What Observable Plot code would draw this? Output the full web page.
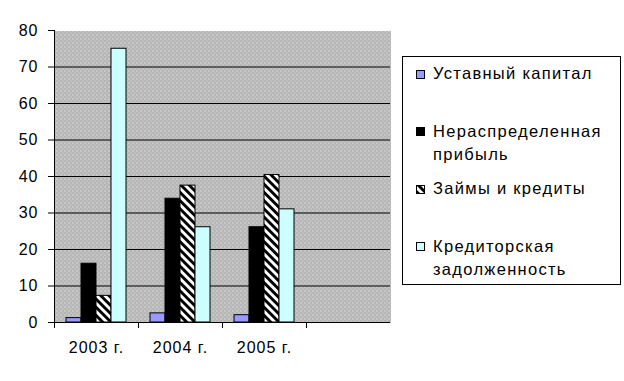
<!DOCTYPE html>
<html>
<head>
<meta charset="utf-8">
<script src="https://cdn.jsdelivr.net/npm/d3@7"></script>
<script src="https://cdn.jsdelivr.net/npm/@observablehq/plot@0.6"></script>
<style>
  body { margin: 0; background: #fff; }
  #wrap { position: relative; width: 624px; height: 381px; font-family: "Liberation Sans", Arial, sans-serif; }
  #chart { position: absolute; left: 0; top: 0; }
  #legend { position: absolute; left: 402px; top: 56px; width: 217px; height: 227px; border: 1px solid #000; background: #fff; }
  .item { position: relative; height: 57.5px; }
  .sw { position: absolute; left: 13px; top: 12.5px; width: 9px; height: 9px; }
  .lbl { position: absolute; left: 30px; top: 5px; width: 188px; font-size: 16.5px; letter-spacing: 1.3px; line-height: 23px; color: #000; }
</style>
</head>
<body>
<svg width="0" height="0" style="position:absolute">
  <defs>
    <pattern id="hatch" patternUnits="userSpaceOnUse" width="5.8" height="5.8" patternTransform="rotate(-45)">
      <rect width="5.8" height="5.8" fill="#fff"/>
      <rect width="2.9" height="5.8" fill="#000"/>
    </pattern>
    <pattern id="bgdots" patternUnits="userSpaceOnUse" width="4" height="4">
      <rect width="4" height="4" fill="#c6c6c6"/>
      <rect x="0" y="0" width="1" height="1" fill="#868686"/>
      <rect x="2" y="2" width="1" height="1" fill="#868686"/>
      <rect x="2" y="0" width="1" height="1" fill="#a8a8a8"/>
    </pattern>
  </defs>
</svg>
<div id="wrap">
  <div id="chart"></div>
  <div id="legend"></div>
</div>
<script>
// ---- data ----
const years = ["2003 г.", "2004 г.", "2005 г.", ""];
const series = ["Уставный капитал", "Нераспределенная прибыль", "Займы и кредиты", "Кредиторская задолженность"];
const ustavnyKapital = [1.2, 2.5, 2.0];
const neraspPribyl = [16.1, 33.9, 26.1];
const zaimyKredity = [7.3, 37.5, 40.4];
const kreditZadolzh = [75.0, 26.1, 31.0];
const yTicks = [0, 10, 20, 30, 40, 50, 60, 70, 80];
const gridLines = [10, 20, 30, 40, 50, 60, 70];
const fills = ["#9999ff", "#000000", "url(#hatch)", "#ccffff"];

const valuesBySeries = [ustavnyKapital, neraspPribyl, zaimyKredity, kreditZadolzh];
const table = [];
years.forEach((year, i) => {
  series.forEach((s, j) => {
    const v = valuesBySeries[j][i];
    table.push({year, series: s, value: v === undefined ? null : v});
  });
});

const W = 624, H = 381, mL = 54, mR = 234, mT = 30, mB = 59;
const slotW = (W - mL - mR) / years.length;

const chart = Plot.plot({
  width: W, height: H,
  marginLeft: mL, marginRight: mR, marginTop: mT, marginBottom: mB,
  style: {fontFamily: "'Liberation Sans', Arial, sans-serif", fontSize: "16px", letterSpacing: "1px", color: "#000", background: "transparent", overflow: "visible"},
  fx: {domain: years, padding: 0, label: null, axis: null},
  x: {domain: series, paddingInner: 0, paddingOuter: 0.7, axis: null},
  y: {domain: [0, 80], ticks: yTicks, tickSize: 6, tickPadding: 10, label: null, line: true},
  color: {domain: series, range: fills},
  marks: [
    Plot.frame({fill: "url(#bgdots)", stroke: null, shapeRendering: "crispEdges"}),
    Plot.ruleY(gridLines, {stroke: "#000", strokeWidth: 1}),
    Plot.barY(table, {fx: "year", x: "series", y: "value", fill: "series", stroke: "#000", strokeWidth: 1}),
    Plot.ruleY([0], {stroke: "#000"}),
    Plot.axisFx({anchor: "bottom", tickSize: 0, tickPadding: 19, label: null}),
    Plot.axisFx({anchor: "bottom", tickSize: 6, tickFormat: () => "", dx: -slotW / 2, label: null})
  ]
});
document.getElementById("chart").appendChild(chart);

// ---- legend ----
const legend = document.getElementById("legend");
series.forEach((s, j) => {
  const item = document.createElement("div");
  item.className = "item";
  item.innerHTML = `<svg class="sw" width="9" height="9"><rect x="0.5" y="0.5" width="8" height="8" fill="${fills[j]}" stroke="#000"/></svg><div class="lbl"></div>`;
  item.querySelector(".lbl").textContent = s;
  legend.appendChild(item);
});
</script>
</body>
</html>
